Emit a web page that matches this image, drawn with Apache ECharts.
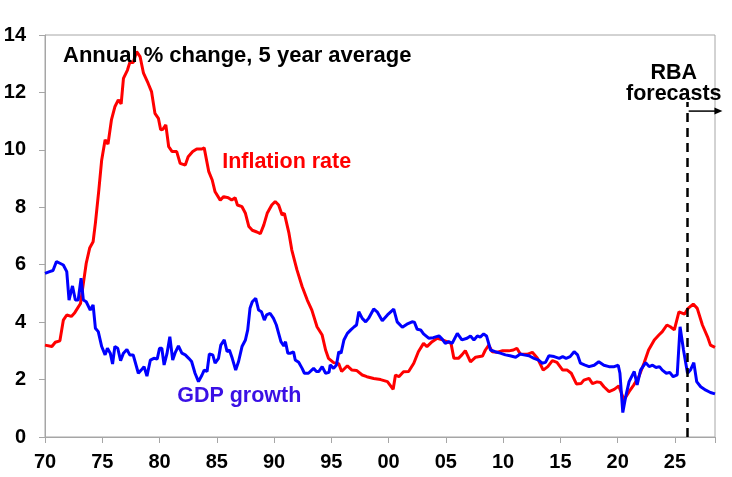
<!DOCTYPE html>
<html>
<head>
	<meta charset="utf-8">
	<title>Inflation and GDP growth</title>
	<script type="text/javascript" src="https://cdn.jsdelivr.net/npm/echarts@6/dist/echarts.min.js"></script>
	<style>
		html, body { margin: 0; padding: 0; background: #fff; }
	</style>
</head>
<body>
	<div id="mychart" style="width: 732px;height:477px;"></div>

	<script type="text/javascript">
		// annual % change, 5 year average: [year, value]
		var inflation = [
			[1970.0,3.2],[1970.6,3.15],[1970.9,3.3],[1971.3,3.35],[1971.6,4.07],[1971.9,4.25],[1972.3,4.2],[1972.6,4.33],
			[1973.1,4.65],[1973.35,5.35],[1973.6,6.05],[1973.9,6.58],[1974.2,6.8],[1974.4,7.45],[1974.7,8.6],[1974.95,9.65],
			[1975.25,10.35],[1975.5,10.2],[1975.8,11.04],[1976.1,11.5],[1976.4,11.74],[1976.65,11.6],[1976.85,12.49],[1977.2,12.78],
			[1977.4,13.04],[1977.7,13.04],[1978.0,13.42],[1978.3,13.25],[1978.6,12.67],[1979.0,12.32],[1979.3,12.03],[1979.6,11.27],
			[1979.9,11.1],[1980.1,10.7],[1980.3,10.72],[1980.55,10.87],[1980.8,10.11],[1981.1,9.94],[1981.5,9.94],[1981.8,9.53],
			[1982.25,9.47],[1982.5,9.76],[1982.9,9.94],[1983.25,10.03],[1983.7,10.03],[1983.9,10.07],[1984.3,9.24],[1984.6,8.95],
			[1984.85,8.54],[1985.3,8.25],[1985.6,8.37],[1986.0,8.33],[1986.3,8.25],[1986.6,8.33],[1986.8,8.08],[1987.2,8.02],
			[1987.5,7.79],[1987.8,7.33],[1988.1,7.2],[1988.5,7.14],[1988.8,7.08],[1989.1,7.38],[1989.4,7.79],[1989.8,8.08],
			[1990.1,8.2],[1990.4,8.08],[1990.7,7.73],[1990.9,7.79],[1991.3,7.1],[1991.55,6.51],[1992.0,5.82],[1992.45,5.24],
			[1992.9,4.77],[1993.3,4.42],[1993.75,3.84],[1994.2,3.55],[1994.5,3.03],[1994.75,2.74],[1995.2,2.59],[1995.65,2.55],
			[1995.9,2.28],[1996.4,2.48],[1996.8,2.33],[1997.2,2.32],[1997.7,2.16],[1998.1,2.1],[1998.7,2.04],[1999.3,2.0],
			[1999.9,1.93],[2000.4,1.66],[2000.6,2.16],[2000.9,2.1],[2001.3,2.27],[2001.75,2.28],[2002.2,2.57],[2002.6,2.97],
			[2003.05,3.26],[2003.35,3.15],[2003.8,3.32],[2004.25,3.44],[2004.7,3.38],[2005.1,3.32],[2005.45,3.26],[2005.7,2.74],
			[2006.1,2.74],[2006.4,2.86],[2006.7,3.01],[2007.15,2.62],[2007.6,2.78],[2008.2,2.82],[2008.45,3.03],[2008.75,3.2],
			[2009.05,2.97],[2009.5,2.95],[2009.9,3.0],[2010.5,3.0],[2010.9,3.03],[2011.2,3.09],[2011.5,2.89],[2012.1,2.88],
			[2012.55,2.95],[2013.0,2.74],[2013.5,2.33],[2013.9,2.45],[2014.3,2.66],[2014.7,2.6],[2015.2,2.33],[2015.6,2.33],
			[2015.95,2.22],[2016.4,1.85],[2016.8,1.86],[2017.05,1.98],[2017.5,2.04],[2017.8,1.86],[2018.2,1.92],[2018.5,1.9],
			[2018.8,1.75],[2019.25,1.58],[2019.7,1.66],[2020.1,1.78],[2020.55,1.29],[2021.0,1.58],[2021.4,1.81],[2021.85,2.1],
			[2022.3,2.57],[2022.7,3.03],[2023.2,3.38],[2023.6,3.55],[2023.9,3.67],[2024.3,3.9],[2024.6,3.84],[2024.95,3.73],
			[2025.35,4.36],[2025.85,4.28],[2026.15,4.48],[2026.6,4.63],[2026.95,4.48],[2027.4,3.9],[2027.85,3.49],[2028.1,3.2],
			[2028.5,3.12]
		];

		var gdpGrowth = [
			[1970.0,5.7],[1970.4,5.76],[1970.7,5.8],[1971.0,6.11],[1971.3,6.05],[1971.6,5.99],[1971.9,5.76],[1972.1,4.77],
			[1972.4,5.26],[1972.65,4.77],[1972.9,4.77],[1973.15,5.53],[1973.35,4.77],[1973.6,4.71],[1973.95,4.42],[1974.2,4.6],
			[1974.4,3.79],[1974.65,3.67],[1974.95,3.15],[1975.25,2.86],[1975.45,3.09],[1975.7,2.92],[1975.9,2.54],[1976.1,3.15],
			[1976.35,3.09],[1976.6,2.66],[1976.85,2.92],[1977.15,3.05],[1977.4,2.86],[1977.7,2.86],[1978.15,2.22],[1978.4,2.33],
			[1978.65,2.45],[1978.9,2.12],[1979.2,2.68],[1979.5,2.74],[1979.8,2.72],[1980.0,3.09],[1980.2,3.09],[1980.4,2.51],
			[1980.65,2.9],[1980.9,3.49],[1981.15,2.68],[1981.35,2.92],[1981.65,3.17],[1981.95,2.92],[1982.25,2.86],[1982.55,2.74],
			[1982.8,2.63],[1983.1,2.22],[1983.4,1.93],[1983.7,2.15],[1983.9,2.33],[1984.15,2.28],[1984.35,2.89],[1984.65,2.86],
			[1984.85,2.57],[1985.15,2.74],[1985.35,3.2],[1985.65,3.38],[1985.9,2.97],[1986.1,3.03],[1986.35,2.74],[1986.65,2.33],
			[1986.9,2.63],[1987.2,3.15],[1987.5,3.38],[1987.7,3.73],[1987.9,4.48],[1988.1,4.71],[1988.4,4.83],[1988.65,4.42],
			[1988.9,4.36],[1989.15,4.07],[1989.35,4.25],[1989.65,4.31],[1989.95,4.13],[1990.2,3.9],[1990.4,3.61],[1990.6,3.32],
			[1990.85,3.17],[1991.0,3.32],[1991.2,2.92],[1991.45,2.92],[1991.7,2.97],[1991.85,2.68],[1992.15,2.6],[1992.45,2.39],
			[1992.65,2.22],[1993.0,2.22],[1993.45,2.39],[1993.7,2.28],[1993.9,2.28],[1994.2,2.45],[1994.5,2.22],[1994.8,2.25],
			[1994.9,2.51],[1995.2,2.39],[1995.45,2.51],[1995.65,2.97],[1995.85,2.92],[1996.1,3.38],[1996.4,3.61],[1996.7,3.73],
			[1997.0,3.84],[1997.2,3.9],[1997.4,4.36],[1997.7,4.13],[1998.0,4.01],[1998.25,4.13],[1998.7,4.46],[1999.0,4.36],
			[1999.45,4.05],[1999.9,4.25],[2000.45,4.45],[2000.75,4.01],[2001.2,3.82],[2001.6,3.93],[2002.05,4.01],[2002.25,4.0],
			[2002.5,3.75],[2002.8,3.73],[2003.05,3.59],[2003.5,3.44],[2003.9,3.46],[2004.4,3.52],[2004.7,3.4],[2004.95,3.26],
			[2005.25,3.32],[2005.55,3.26],[2006.0,3.61],[2006.4,3.38],[2006.85,3.44],[2007.15,3.52],[2007.45,3.38],[2007.75,3.52],
			[2008.0,3.48],[2008.3,3.59],[2008.55,3.52],[2008.9,3.03],[2009.3,2.97],[2009.75,2.92],[2010.2,2.86],[2010.6,2.83],
			[2011.1,2.78],[2011.5,2.89],[2011.8,2.86],[2012.25,2.83],[2012.7,2.74],[2013.1,2.68],[2013.4,2.57],[2013.7,2.6],
			[2014.0,2.83],[2014.45,2.8],[2014.9,2.74],[2015.2,2.8],[2015.5,2.74],[2015.85,2.8],[2016.2,2.97],[2016.5,2.86],
			[2016.75,2.57],[2017.1,2.51],[2017.5,2.45],[2017.95,2.5],[2018.35,2.62],[2018.8,2.5],[2019.25,2.45],[2019.7,2.45],
			[2020.05,2.5],[2020.2,2.22],[2020.45,0.85],[2020.7,1.4],[2021.0,1.93],[2021.45,2.28],[2021.7,1.81],[2022.0,2.33],
			[2022.45,2.59],[2022.75,2.45],[2023.05,2.5],[2023.35,2.42],[2023.65,2.45],[2023.9,2.33],[2024.25,2.22],[2024.55,2.25],
			[2024.85,2.1],[2025.2,2.16],[2025.45,3.84],[2025.75,3.03],[2026.1,2.22],[2026.35,2.33],[2026.65,2.59],[2026.9,1.93],
			[2027.25,1.75],[2027.7,1.63],[2028.1,1.55],[2028.5,1.5]
		];

		var forecastStart = 2026.1;
		var xRange = [1970, 2028.5];
		var yRange = [0, 14];

		var font = 'Arial, "Liberation Sans", sans-serif';
		var mychart = echarts.init(document.getElementById("mychart"));

		var option = {
			animation: false,
			title: {
				text: 'Annual % change, 5 year average',
				left: 58,
				top: 40,
				textStyle: { fontFamily: font, fontSize: 22, fontWeight: 'bold', color: '#000' }
			},
			grid: {
				left: 45, right: 17, top: 35, bottom: 40,
				show: true,
				borderColor: '#a6a6a6',
				borderWidth: 1
			},
			xAxis: {
				type: 'value',
				min: xRange[0],
				max: xRange[1],
				interval: 5,
				splitLine: { show: false },
				axisLine: { lineStyle: { color: '#a6a6a6', width: 1 } },
				axisTick: { show: true, length: 6, lineStyle: { color: '#a6a6a6' } },
				axisLabel: {
					margin: 15,
					fontFamily: font, fontSize: 20, fontWeight: 'bold', color: '#000',
					formatter: function (v) {
						if (v % 5 !== 0) return '';
						var s = String(v % 100);
						return s.length < 2 ? '0' + s : s;
					}
				}
			},
			yAxis: {
				type: 'value',
				min: yRange[0],
				max: yRange[1],
				interval: 2,
				splitLine: { show: false },
				axisLine: { show: true, lineStyle: { color: '#a6a6a6', width: 1 } },
				axisTick: { show: true, length: 6, lineStyle: { color: '#a6a6a6' } },
				axisLabel: {
					margin: 19,
					fontFamily: font, fontSize: 20, fontWeight: 'bold', color: '#000'
				}
			},
			series: [
				{
					name: 'Inflation rate',
					type: 'line',
					data: inflation,
					showSymbol: false,
					lineStyle: { color: '#ff0000', width: 3 },
					itemStyle: { color: '#ff0000' },
					z: 2
				},
				{
					name: 'GDP growth',
					type: 'line',
					data: gdpGrowth,
					showSymbol: false,
					lineStyle: { color: '#0000ff', width: 3 },
					itemStyle: { color: '#0000ff' },
					z: 3,
					markLine: {
						silent: true,
						animation: false,
						label: { show: false },
						emphasis: { disabled: true },
						data: [
							[
								{ coord: [forecastStart, 0], symbol: 'none', lineStyle: { color: '#000', width: 2.5, type: [9, 6] } },
								{ coord: [forecastStart, 11.67], symbol: 'none' }
							]
						]
					}
				}
			]
		};

		mychart.setOption(option);

		// annotations anchored in data space
		function at(x, y) { return mychart.convertToPixel({ gridIndex: 0 }, [x, y]); }
		var pInfl = at(1985.47, 9.58);
		var pGdp = at(1981.54, 1.43);
		var pRba = at(2024.9, 12.68);
		var pFc = at(2024.9, 11.95);
		var pArrowA = at(2026.2, 11.35);
		var pArrowB = at(2029.15, 11.35);

		mychart.setOption({
			graphic: [
				{ type: 'text', x: pInfl[0], y: pInfl[1], style: { text: 'Inflation rate', fill: '#ff0000', font: 'bold 21.5px ' + font, textVerticalAlign: 'middle' } },
				{ type: 'text', x: pGdp[0], y: pGdp[1], style: { text: 'GDP growth', fill: '#3a10e5', font: 'bold 21.5px ' + font, textVerticalAlign: 'middle' } },
				{ type: 'text', x: pRba[0], y: pRba[1], style: { text: 'RBA', fill: '#000', font: 'bold 21.5px ' + font, textAlign: 'center', textVerticalAlign: 'middle' } },
				{ type: 'text', x: pFc[0], y: pFc[1], style: { text: 'forecasts', fill: '#000', font: 'bold 21.5px ' + font, textAlign: 'center', textVerticalAlign: 'middle' } },
				{
					type: 'line',
					shape: { x1: pArrowA[0], y1: pArrowA[1], x2: pArrowB[0] - 6, y2: pArrowB[1] },
					style: { stroke: '#000', lineWidth: 1.5 }
				},
				{
					type: 'polygon',
					shape: { points: [[pArrowB[0], pArrowB[1]], [pArrowB[0] - 8, pArrowB[1] - 3.5], [pArrowB[0] - 8, pArrowB[1] + 3.5]] },
					style: { fill: '#000' }
				}
			]
		});
	</script>
</body>
</html>
